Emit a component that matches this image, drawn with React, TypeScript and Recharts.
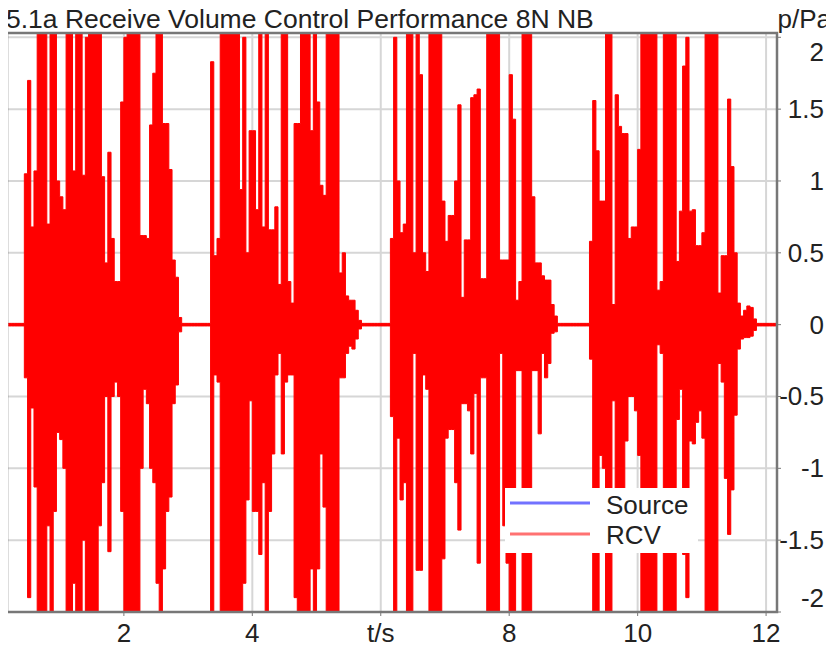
import { Area, AreaChart, CartesianGrid, XAxis, YAxis } from "recharts";

// sample grid of the envelope: one bin every 50 ms starting at 0.2 s
const T_START = 0.2;
const STEP = 0.05;
const Q = 0.009; // noise floor between the bursts

// upper envelope of the RCV signal (Pa), one row per second
const rcvUpper = [
  Q, Q, Q, Q, Q, 1.05, 1.7, 0.68, 1.07, 2.2, 2.2, 2.2, 0.7, 2.2, 2.2, 1.0, 0.89, 0.8, 2.2, 2.2,
  1.07, 2.2, 2.2, 1.04, 2.0, 2.2, 2.2, 2.2, 2.2, 1.03, 0.43, 1.2, 0.6, 0.3, 0.3, 1.55, 2.0, 2.2, 2.2, 2.2,
  2.2, 0.62, 0.62, 0.6, 1.39, 1.75, 2.2, 2.2, 1.4, 1.4, 1.08, 0.45, 0.33, 0.05, Q, Q, Q, Q, Q, Q,
  Q, Q, Q, 1.83, 0.48, 0.6, 2.2, 2.2, 2.2, 2.2, 2.2, 2.2, 0.94, 2.0, 0.5, 1.35, 1.35, 0.8, 2.2, 0.68,
  2.2, 0.66, 0.66, 0.82, 0.28, 2.2, 2.2, 0.3, 0.15, 1.4, 1.4, 2.2, 2.2, 2.2, 1.35, 2.2, 1.55, 0.97, 0.9, 2.2,
  2.2, 2.2, 2.2, 0.36, 0.5, 0.2, 0.17, 0.17, 0.1, 0.03, Q, Q, Q, Q, Q, Q, Q, Q, Q, 0.6,
  2.0, 1.0, 0.64, 0.7, 2.2, 2.2, 0.5, 2.2, 1.74, 0.5, 0.37, 2.2, 2.2, 2.2, 2.2, 0.86, 0.58, 0.76, 0.76, 1.0,
  1.53, 0.19, 0.59, 0.59, 1.58, 1.6, 1.64, 0.32, 0.32, 2.2, 2.2, 2.2, 2.2, 0.45, 0.45, 0.45, 1.74, 1.43, 0.17, 0.3,
  2.2, 2.2, 2.2, 0.89, 0.43, 0.43, 0.34, 0.31, 0.31, 0.14, 0.06, Q, Q, Q, Q, Q, Q, Q, Q, Q,
  Q, 0.58, 1.56, 1.21, 0.86, 0.86, 2.2, 2.2, 0.14, 1.6, 1.38, 1.33, 1.33, 0.6, 0.68, 0.68, 1.22, 2.2, 2.2, 2.2,
  2.2, 2.2, 0.24, 0.3, 2.2, 2.2, 2.2, 2.2, 0.44, 0.79, 1.8, 2.0, 0.79, 0.8, 0.55, 0.55, 0.64, 2.2, 2.2, 2.2,
  2.2, 0.22, 0.48, 0.48, 1.57, 1.1, 0.5, 0.15, 0.06, 0.1, 0.13, 0.12, 0.04, Q, Q, Q, Q, Q, Q, Q,
  Q,
];

// lower envelope of the RCV signal (Pa)
const rcvLower = [
  -Q, -Q, -Q, -Q, -Q, -0.37, -1.9, -0.58, -1.13, -2.2, -2.2, -2.2, -1.4, -2.2, -1.3, -0.75, -0.8, -1.0, -2.2, -2.2,
  -1.8, -2.2, -2.2, -1.5, -2.2, -2.2, -2.2, -2.2, -1.4, -1.1, -0.5, -1.58, -0.5, -0.4, -0.5, -1.3, -2.2, -2.2, -2.2, -2.2,
  -2.2, -1.0, -0.45, -0.55, -1.0, -1.1, -1.8, -2.2, -1.7, -1.3, -1.2, -0.55, -0.42, -0.05, -Q, -Q, -Q, -Q, -Q, -Q,
  -Q, -Q, -Q, -2.2, -0.35, -0.4, -2.2, -2.2, -2.2, -2.2, -2.2, -2.2, -2.0, -1.8, -1.22, -0.53, -1.3, -1.3, -1.6, -1.1,
  -2.2, -1.3, -0.9, -0.35, -0.2, -0.9, -0.4, -0.35, -0.35, -1.9, -2.2, -2.2, -2.2, -2.2, -1.7, -2.2, -1.7, -0.9, -1.27, -2.2,
  -2.2, -2.2, -2.2, -0.37, -0.37, -0.2, -0.15, -0.17, -0.1, -0.03, -Q, -Q, -Q, -Q, -Q, -Q, -Q, -Q, -Q, -0.64,
  -2.0, -0.79, -1.22, -1.1, -2.2, -2.2, -0.2, -1.71, -1.71, -0.35, -0.45, -2.2, -2.2, -2.2, -2.2, -1.63, -0.79, -0.73, -0.73, -1.1,
  -1.43, -0.55, -0.55, -0.6, -0.9, -0.48, -1.66, -0.37, -0.37, -2.2, -2.2, -2.2, -2.2, -0.2, -1.4, -1.66, -2.2, -2.2, -0.32, -0.32,
  -2.2, -2.2, -2.2, -0.32, -0.32, -0.76, -0.2, -0.37, -0.27, -0.06, -0.05, -Q, -Q, -Q, -Q, -Q, -Q, -Q, -Q, -Q,
  -Q, -0.24, -2.2, -2.2, -0.91, -1.0, -2.2, -2.2, -0.53, -1.3, -1.5, -1.5, -0.81, -0.5, -0.5, -0.6, -0.91, -2.2, -2.2, -2.2,
  -2.2, -2.2, -0.14, -0.2, -2.2, -2.2, -2.2, -2.2, -0.66, -0.45, -1.6, -1.9, -0.81, -0.83, -0.68, -0.6, -0.79, -2.2, -2.2, -2.2,
  -2.2, -0.27, -0.4, -1.07, -1.46, -1.15, -0.63, -0.17, -0.1, -0.09, -0.09, -0.08, -0.04, -Q, -Q, -Q, -Q, -Q, -Q, -Q,
  -Q,
];

const xTicks = [2, 4, 6, 8, 10, 12];
const xTickLabels = ["2", "4", "t/s", "8", "10", "12"];
const yTicks = [-2, -1.5, -1, -0.5, 0, 0.5, 1, 1.5, 2];

// the source trace lies exactly under the RCV trace
const data = rcvUpper.map((hi, i) => ({
  t: Number((T_START + i * STEP).toFixed(2)),
  source: [rcvLower[i], hi],
  rcv: [rcvLower[i], hi],
}));

const FONT = "'Liberation Sans', Arial, sans-serif";
const TEXT = "#222";

function XTick(props: any) {
  const { x, payload } = props;
  const idx = xTicks.indexOf(payload.value);
  return (
    <text x={x} y={642} textAnchor="middle" fontSize={26} fontFamily={FONT} fill={TEXT}>
      {xTickLabels[idx]}
    </text>
  );
}

function YTick(props: any) {
  const { y, payload } = props;
  const v = payload.value as number;
  const shift = v === 2 ? 15 : v === -2 ? -14 : 0;
  return (
    <text x={824} y={y + shift + 9} textAnchor="end" fontSize={26} fontFamily={FONT} fill={TEXT}>
      {String(v)}
    </text>
  );
}

export default function App() {
  return (
    <div style={{ position: "relative", width: 834, height: 651, margin: -8, background: "#fff" }}>
      <AreaChart width={834} height={651} data={data} margin={{ top: 33, right: 0, bottom: 0, left: 7 }}>
        <CartesianGrid stroke="#d6d6d6" strokeWidth={2} />
        <XAxis
          type="number"
          dataKey="t"
          domain={[0.18, 12.17]}
          ticks={xTicks}
          allowDataOverflow
          height={39}
          axisLine={false}
          tickSize={4}
          tickLine={{ stroke: "#777" }}
          tick={<XTick />}
        />
        <YAxis
          orientation="right"
          domain={[-2, 2.03]}
          ticks={yTicks}
          allowDataOverflow
          width={57}
          axisLine={false}
          tickSize={4}
          tickLine={{ stroke: "#777" }}
          tick={<YTick />}
        />
        <Area
          type="stepAfter"
          dataKey="source"
          name="Source"
          stroke="none"
          fill="#0000ff"
          fillOpacity={0}
          dot={false}
          activeDot={false}
          isAnimationActive={false}
        />
        <Area
          type="stepAfter"
          dataKey="rcv"
          name="RCV"
          stroke="#ff0000"
          strokeWidth={1}
          fill="#ff0000"
          fillOpacity={1}
          dot={false}
          activeDot={false}
          isAnimationActive={false}
        />
      </AreaChart>
      <svg
        width={834}
        height={651}
        style={{ position: "absolute", left: 0, top: 0, pointerEvents: "none" }}
        fontFamily={FONT}
      >
        <rect x={7} y={33} width={770} height={579} fill="none" stroke="#777" strokeWidth={2.5} />
        <text x={6} y={28} fontSize={26.5} fill={TEXT}>
          5.1a Receive Volume Control Performance 8N NB
        </text>
        <text x={831} y={28} fontSize={26} fill={TEXT} textAnchor="end">
          p/Pa
        </text>
        <rect x={505} y={488} width={193} height={65} fill="#fff" />
        <line x1={510} x2={590} y1={503} y2={503} stroke="#7272ff" strokeWidth={3} />
        <text x={606} y={514} fontSize={26} fill={TEXT}>
          Source
        </text>
        <line x1={510} x2={590} y1={534} y2={534} stroke="#ff7272" strokeWidth={3} />
        <text x={606} y={544} fontSize={26} fill={TEXT}>
          RCV
        </text>
      </svg>
    </div>
  );
}
